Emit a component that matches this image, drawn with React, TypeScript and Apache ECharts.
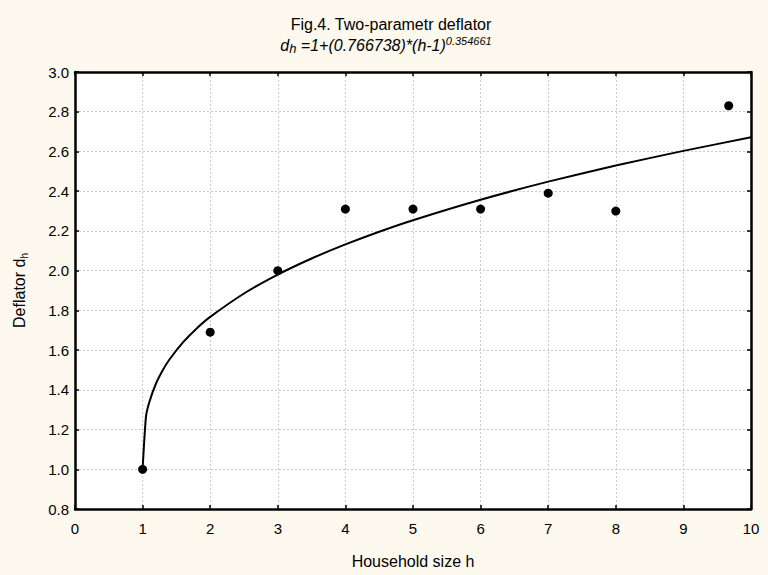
import React, { useEffect, useRef } from "react";
import * as echarts from "echarts";

const pointsX = [1, 2, 3, 4, 5, 6, 7, 8, 9.67];
const pointsY = [1.0, 1.69, 2.0, 2.31, 2.31, 2.31, 2.39, 2.3, 2.83];

const curveX = [1, 1.05, 1.1, 1.2, 1.3, 1.4, 1.6, 1.8, 2, 2.5, 3, 3.5, 4, 4.5, 5, 6, 7, 8, 9, 10];
const curveY = [1.0, 1.265, 1.339, 1.433, 1.5, 1.554, 1.64, 1.709, 1.767, 1.885, 1.98, 2.061, 2.132, 2.196, 2.254, 2.357, 2.448, 2.529, 2.603, 2.671];

const xTicks = [0, 1, 2, 3, 4, 5, 6, 7, 8, 9, 10];
const yTickLabels = ["0.8", "1.0", "1.2", "1.4", "1.6", "1.8", "2.0", "2.2", "2.4", "2.6", "2.8", "3.0"];

const FONT = "'Liberation Sans', Arial, Helvetica, sans-serif";

export default function App() {
  const ref = useRef<HTMLDivElement>(null);
  useEffect(() => {
    if (!ref.current) return;
    const chart = echarts.init(ref.current, null, { renderer: "svg" });
    const axisCommon = {
      axisLine: { show: true, onZero: false, lineStyle: { color: "#000", width: 2.5 } },
      axisTick: { show: true, inside: true, length: 4, lineStyle: { color: "#000", width: 1.5 } },
    };
    chart.setOption({
      animation: false,
      backgroundColor: "#fdf9ef",
      textStyle: { fontFamily: FONT },
      graphic: [
        {
          type: "text",
          x: 391,
          y: 24,
          style: {
            text: "Fig.4. Two-parametr deflator",
            align: "center",
            verticalAlign: "middle",
            fontSize: 16,
            fontFamily: FONT,
            fill: "#000",
          },
        },
        {
          type: "text",
          x: 386,
          y: 45,
          style: {
            text: "{m|d}{sub|h}{m| =1+(0.766738)*(h-1)}{sup|0.354661}",
            align: "center",
            verticalAlign: "middle",
            fontSize: 16,
            fontFamily: FONT,
            fill: "#000",
            rich: {
              m: { fontSize: 16, fontStyle: "italic", lineHeight: 20, fontFamily: FONT, fill: "#000", color: "#000" },
              sub: { fontSize: 13, fontStyle: "italic", lineHeight: 12, verticalAlign: "bottom", fontFamily: FONT, fill: "#000", color: "#000" },
              sup: { fontSize: 11, fontStyle: "italic", lineHeight: 11, verticalAlign: "top", fontFamily: FONT, fill: "#000", color: "#000" },
            },
          },
        },
      ],
      grid: {
        left: 75,
        right: 17,
        top: 72,
        bottom: 66,
        show: true,
        backgroundColor: "#fff",
        borderWidth: 0,
      },
      xAxis: [
        {
          type: "value",
          min: 0,
          max: 10,
          interval: 1,
          position: "bottom",
          name: "Household size h",
          nameLocation: "middle",
          nameGap: 44,
          nameTextStyle: { fontSize: 16, color: "#000", fontFamily: FONT },
          ...axisCommon,
          axisLabel: {
            color: "#000",
            fontSize: 15,
            margin: 12,
            fontFamily: FONT,
            formatter: (v: number) => (xTicks.includes(v) ? String(v) : ""),
          },
          splitLine: { show: true, lineStyle: { color: "#c8c8c8", type: [2, 2], width: 1 } },
        },
        {
          type: "value",
          min: 0,
          max: 10,
          interval: 1,
          position: "top",
          ...axisCommon,
          axisLabel: { show: false },
          splitLine: { show: false },
        },
      ],
      yAxis: [
        {
          type: "value",
          min: 0.8,
          max: 3.0,
          interval: 0.2,
          position: "left",
          name: "{a|Deflator d}{s|h}",
          nameLocation: "middle",
          nameGap: 46,
          nameRotate: 90,
          nameTextStyle: {
            color: "#000",
            fontFamily: FONT,
            rich: {
              a: { fontSize: 16, lineHeight: 19, color: "#000", fontFamily: FONT },
              s: { fontSize: 10, lineHeight: 10, verticalAlign: "bottom", color: "#000", fontFamily: FONT },
            },
          },
          ...axisCommon,
          axisLabel: {
            color: "#000",
            fontSize: 15,
            margin: 6,
            fontFamily: FONT,
            formatter: (v: number) => {
              const s = v.toFixed(1);
              return yTickLabels.includes(s) ? s : "";
            },
          },
          splitLine: { show: true, lineStyle: { color: "#c8c8c8", type: [2, 2], width: 1 } },
        },
        {
          type: "value",
          min: 0.8,
          max: 3.0,
          interval: 0.2,
          position: "right",
          ...axisCommon,
          axisLabel: { show: false },
          splitLine: { show: false },
        },
      ],
      series: [
        {
          type: "line",
          data: curveX.map((x, i) => [x, curveY[i]]),
          showSymbol: false,
          symbol: "none",
          smooth: 0.2,
          lineStyle: { color: "#000", width: 2 },
          z: 3,
        },
        {
          type: "scatter",
          data: pointsX.map((x, i) => [x, pointsY[i]]),
          symbol: "circle",
          symbolSize: 9,
          itemStyle: { color: "#000", opacity: 1 },
          z: 4,
        },
      ],
    });
    return () => chart.dispose();
  }, []);
  return <div ref={ref} style={{ width: 768, height: 575, position: "fixed", left: 0, top: 0 }} />;
}
